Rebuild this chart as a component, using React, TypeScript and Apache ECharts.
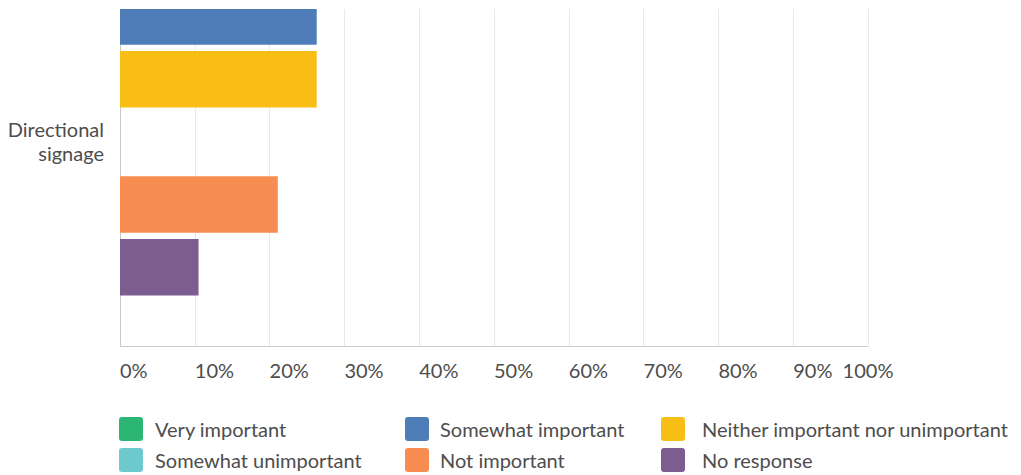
import React, { useEffect, useRef } from "react";
import * as echarts from "echarts";

const categories = ["Directional signage"];
const seriesNames = [
  "Very important",
  "Somewhat important",
  "Neither important nor unimportant",
  "Somewhat unimportant",
  "Not important",
  "No response",
];
const veryImportant = [15.8];
const somewhatImportant = [26.3];
const neitherImportant = [26.3];
const somewhatUnimportant = [0];
const notImportant = [21.1];
const noResponse = [10.5];
const tickValues = [0, 10, 20, 30, 40, 50, 60, 70, 80, 90, 100];

const colors = ["#2bb673", "#4f7db8", "#f8be16", "#6ccacd", "#f88d52", "#7d5c8f"];
const seriesData = [
  veryImportant,
  somewhatImportant,
  neitherImportant,
  somewhatUnimportant,
  notImportant,
  noResponse,
];

const FONT = "Lato, 'Noto Sans', sans-serif";
const TEXT = "#4d4d4d";
const FS = 20;
const ICON =
  "path://M3,0H21A3,3,0,0,1,24,3V21A3,3,0,0,1,21,24H3A3,3,0,0,1,0,21V3A3,3,0,0,1,3,0Z";

export default function App() {
  const ref = useRef<HTMLDivElement>(null);
  useEffect(() => {
    if (!ref.current) return;
    const chart = echarts.init(ref.current, null, { renderer: "svg" });
    const legendBase = {
      orient: "vertical",
      top: 558,
      padding: 0,
      itemWidth: 24,
      itemHeight: 24,
      itemGap: 7,
      icon: ICON,
      selectedMode: false,
      itemStyle: { borderWidth: 0 },
    };
    chart.setOption({
      animation: false,
      textStyle: { fontFamily: FONT },
      grid: { left: 120, right: 153, top: 16, bottom: 173, containLabel: false },
      xAxis: [
        {
          type: "value",
          min: 0,
          max: 100,
          interval: 10,
          axisLine: { show: true, lineStyle: { color: "#cccccc", width: 1 } },
          axisTick: { show: false },
          splitLine: { show: true, lineStyle: { color: "#e9e9e9", width: 1 } },
          axisLabel: {
            showMaxLabel: false,
            align: "left",
            margin: 14,
            fontSize: FS,
            color: TEXT,
            fontFamily: FONT,
            formatter: (v: number) => (tickValues.includes(v) ? v + "%" : ""),
          },
        },
        {
          type: "value",
          min: 0,
          max: 100,
          interval: 10,
          position: "bottom",
          axisLine: { show: false },
          axisTick: { show: false },
          splitLine: { show: false },
          axisLabel: {
            showMaxLabel: true,
            align: "center",
            margin: 14,
            fontSize: FS,
            color: TEXT,
            fontFamily: FONT,
            formatter: (v: number) => (v === 100 ? "100%" : ""),
          },
        },
      ],
      yAxis: {
        type: "category",
        data: categories,
        inverse: true,
        axisLine: { show: true, lineStyle: { color: "#c8c8c8", width: 1 } },
        axisTick: { show: false },
        axisLabel: {
          margin: 16,
          color: TEXT,
          fontFamily: FONT,
          align: "right",
          formatter: (v: string) => "{s|}\n" + v.split(" ").map((w) => "{a|" + w + "}").join("\n"),
          rich: {
            s: { lineHeight: 60, fontSize: FS, fontFamily: FONT },
            a: { lineHeight: 24, fontSize: FS, color: TEXT, fontFamily: FONT, align: "right" },
          },
        },
      },
      legend: [
        {
          ...legendBase,
          left: 119,
          data: [seriesNames[0], seriesNames[3]],
          textStyle: { fontSize: FS, color: TEXT, fontFamily: FONT, padding: [0, 0, 0, 7] },
        },
        {
          ...legendBase,
          left: 405,
          data: [seriesNames[1], seriesNames[4]],
          textStyle: { fontSize: FS, color: TEXT, fontFamily: FONT, padding: [0, 0, 0, 6] },
        },
        {
          ...legendBase,
          left: 661,
          data: [seriesNames[2], seriesNames[5]],
          textStyle: { fontSize: FS, color: TEXT, fontFamily: FONT, padding: [0, 0, 0, 12] },
        },
      ],
      series: seriesNames.map((name, i) => ({
        name,
        type: "bar",
        xAxisIndex: 0,
        data: seriesData[i],
        barWidth: 56.5,
        barGap: "11%",
        itemStyle: { color: colors[i] },
      })),
    });
    return () => chart.dispose();
  }, []);
  return (
    <div
      style={{
        position: "fixed",
        top: 9,
        left: 0,
        width: 1021,
        height: 466,
        overflow: "hidden",
        background: "#fff",
      }}
    >
      <div
        ref={ref}
        style={{ position: "absolute", top: -150, left: 0, width: 1021, height: 660 }}
      />
    </div>
  );
}
